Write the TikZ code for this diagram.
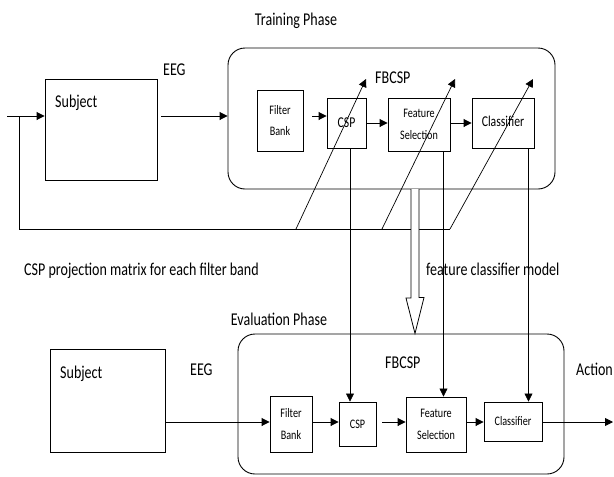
\documentclass[tikz,border=0pt]{standalone}
\usepackage{fontspec}
\setmainfont{Carlito}[FakeStretch=0.78]
\usetikzlibrary{arrows.meta,calc}

\begin{document}
\begin{tikzpicture}[x=1pt,y=-1pt,
  lbl/.style={anchor=base west, inner sep=0, font=\fontsize{18}{20}\selectfont},
  blk/.style={draw, line width=0.9pt, inner sep=0, align=center,
              font=\fontsize{13}{21.5}\selectfont},
  subj/.style={draw, line width=0.9pt, inner sep=0},
  phase/.style={draw, rounded corners=17pt, line width=0.9pt},
  ln/.style={line width=0.9pt},
  arr/.style={ln, -{Triangle[length=8pt,width=8pt]}},
]
\useasboundingbox[fill=white] (0,0) rectangle (614,477);

% ---------------- training phase ----------------
\node[lbl, anchor=base] (ttl) at (296,25) {Training Phase};
\node[subj, minimum width=112pt, minimum height=101pt] (subjT) at (101,129.5) {};
\node[lbl] (subjTl) at (55,107) {Subject};
\node[lbl] (eegT) at (163,75) {EEG};
\node[phase, minimum width=327pt, minimum height=141pt] (trainbox) at (391.5,118.5) {};
\node[lbl] (fbcspT) at (375,83) {FBCSP};

\node[blk, minimum width=46pt, minimum height=61pt] (fbT) at (280,120.5) {Filter\\Bank};
\node[blk, minimum width=39pt, minimum height=50pt,
      font=\fontsize{15}{18}\selectfont] (cspT) at (346.5,123) {CSP};
\node[blk, minimum width=62pt, minimum height=53pt] (fsT) at (419,124.5) {Feature\\Selection};
\node[blk, minimum width=62pt, minimum height=50pt,
      font=\fontsize{15}{18}\selectfont] (clsT) at (503,123) {\raisebox{4pt}{Classifier}};

% rows and turning points of the connectors
\coordinate (inT) at (7,116);
\coordinate (fb1) at (19,229);
\coordinate (d1s) at (296,229);
\coordinate (d2s) at (382,229);
\coordinate (d3s) at (450,229);
\coordinate (d1e) at (366,79);
\coordinate (d2e) at (455,79);
\coordinate (d3e) at (533,79);
\coordinate (vA) at (350,0);
\coordinate (vB) at (443.5,0);
\coordinate (vC) at (528.5,0);
\coordinate (hT) at (415,189);

\draw[arr] (inT) -- (inT -| subjT.west);
\draw[arr] ([xshift=4pt]subjT.east |- inT) -- (trainbox.west |- inT);
\draw[arr] ([xshift=9pt]fbT.east |- inT) -- (cspT.west |- inT);
\draw[arr] (cspT.east) -- (fsT.west |- cspT.east);
\draw[arr] (fsT.east |- cspT.east) -- (clsT.west |- cspT.east);

% feedback path with the adapting diagonals
\draw[ln] (inT -| fb1) -- (fb1) -- (d3s);
\draw[arr, line width=0.7pt] (d1s) -- (d1e);
\draw[arr, line width=0.7pt] (d2s) -- (d2e);
\draw[arr, line width=0.7pt] (d3s) -- (d3e);

% ---------------- labels between the phases ----------------
\node[lbl] (cspm) at (24,275) {CSP projection matrix for each filter band};
\node[lbl] (fcm) at (426,275) {feature classifier model};

% ---------------- evaluation phase ----------------
\node[lbl, anchor=base] (ttlE) at (279,325) {Evaluation Phase};
\node[subj, minimum width=115pt, minimum height=103pt] (subjE) at (107.5,400.5) {};
\node[lbl] (subjEl) at (60,378) {Subject};
\node[lbl] (eegE) at (190,375) {EEG};
\node[phase, minimum width=326pt, minimum height=140pt] (evalbox) at (401,404) {};
\node[lbl] (fbcspE) at (385,368) {FBCSP};
\node[lbl] (act) at (576,375) {Action};

\node[blk, minimum width=42pt, minimum height=56pt] (fbE) at (291,424) {Filter\\Bank};
\node[blk, minimum width=37pt, minimum height=44pt] (cspE) at (357.5,424) {CSP};
\node[blk, minimum width=60pt, minimum height=55pt] (fsE) at (436,424.5) {Feature\\Selection};
\node[blk, minimum width=58pt, minimum height=39pt] (clsE) at (513,421.5) {Classifier};

\coordinate (rowE) at (0,422);
\coordinate (out) at (613,422);
\draw[arr] (subjE.east |- rowE) -- (fbE.west |- rowE);
\draw[arr] (fbE.east |- rowE) -- (cspE.west |- rowE);
\draw[arr] ([xshift=6pt]cspE.east |- rowE) -- (fsE.west |- rowE);
\draw[arr] (fsE.east |- rowE) -- (clsE.west |- rowE);
\draw[arr] (clsE.east |- rowE) -- (out);

% trained parameters handed down to the evaluation blocks
\draw[arr, line width=0.7pt] (cspT.south -| vA) -- (cspE.north -| vA);
\draw[arr, line width=0.7pt] (fsT.south -| vB) -- (fsE.north -| vB);
\draw[arr, line width=0.7pt] (clsT.south -| vC) -- (clsE.north -| vC);

% hollow block arrow from training to evaluation
\draw[ln, line width=0.8pt, fill=white]
  ([xshift=-4pt]hT) -- ++(0,109) -- ++(-5,0) -- (evalbox.north -| hT)
  -- ++(9,-36) -- ++(-5,0) -- ([xshift=4pt]hT);
\end{tikzpicture}
\end{document}
